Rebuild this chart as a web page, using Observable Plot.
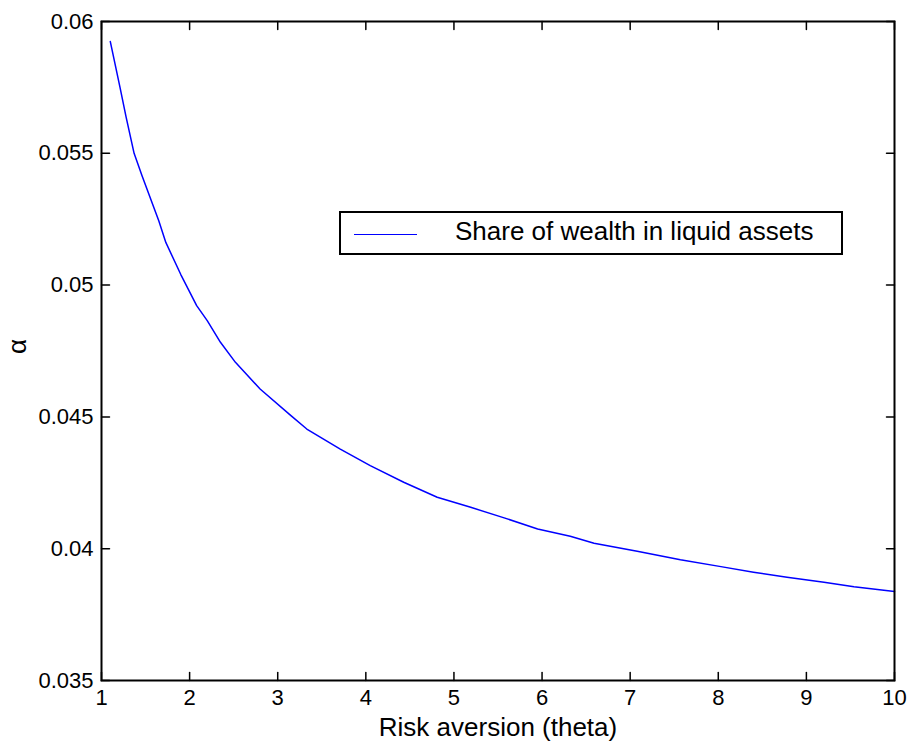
<!DOCTYPE html>
<html>
<head>
<meta charset="utf-8">
<script src="https://cdn.jsdelivr.net/npm/d3@7"></script>
<script src="https://cdn.jsdelivr.net/npm/@observablehq/plot@0.6"></script>
<style>
  html, body { margin: 0; padding: 0; background: #fff; }
  #chart { position: relative; width: 910px; height: 753px; font-family: "Liberation Sans", Arial, Helvetica, sans-serif; }
  #chart svg { display: block; }
  .legend {
    position: absolute; left: 339px; top: 211px; width: 504px; height: 44px;
    box-sizing: border-box; border: 2px solid #000; background: #fff;
  }
  .legend .swatch { position: absolute; left: 13px; top: 21px; width: 63px; height: 0; border-top: 1.5px solid #0000ff; }
  .legend .label { position: absolute; left: 114px; top: 3px; font-size: 26px; line-height: 30px; color: #000; white-space: nowrap; }
</style>
</head>
<body>
<div id="chart"></div>
<script>
// Share of wealth held in liquid assets (alpha) against risk aversion (theta)
const theta = [1.1, 1.21, 1.28, 1.37, 1.46, 1.65, 1.73, 1.9, 2.08, 2.2, 2.35, 2.52, 2.8, 3.15, 3.33, 3.71,
               4.05, 4.43, 4.81, 5.19, 5.57, 5.95, 6.32, 6.59, 7.08, 7.57, 8.03, 8.4, 8.78, 9.2, 9.54, 10.0];
const alpha = [0.05924, 0.0575, 0.05636, 0.0550, 0.05415, 0.05244, 0.05162, 0.0504, 0.04922, 0.04865, 0.04783,
               0.04707, 0.04606, 0.04505, 0.04454, 0.04378, 0.04315, 0.04252, 0.04195, 0.04157, 0.04117,
               0.04075, 0.04047, 0.04021, 0.0399, 0.03958, 0.03932, 0.03911, 0.03892, 0.03873, 0.03856, 0.03838];

const xTicks = [1, 2, 3, 4, 5, 6, 7, 8, 9, 10];
const yTicks = [0.035, 0.04, 0.045, 0.05, 0.055, 0.06];
const yTickLabels = ["0.035", "0.04", "0.045", "0.05", "0.055", "0.06"];
const xDomain = [1, 10];
const yDomain = [0.035, 0.06];

const xLabel = "Risk aversion (theta)";
const yLabel = "α";
const seriesName = "Share of wealth in liquid assets";

const points = theta.map((t, i) => ({theta: t, alpha: alpha[i]}));

// Short inward tick: a line from the anchor point along the vector direction
const tickShape = {draw(context, l) { context.moveTo(0, 0); context.lineTo(0, -l); }};
const tickLen = 8;

const chart = Plot.plot({
  width: 910,
  height: 753,
  marginLeft: 101,
  marginRight: 16,
  marginTop: 21,
  marginBottom: 73,
  style: {fontFamily: "'Liberation Sans', Arial, Helvetica, sans-serif", fontSize: "22px", color: "#000", background: "#fff"},
  x: {domain: xDomain},
  y: {domain: yDomain},
  marks: [
    Plot.axisX({ticks: xTicks, tickSize: 0, tickPadding: 9, tickFormat: d => String(d), label: null, fontSize: 22}),
    Plot.axisY({ticks: yTicks, tickSize: 0, tickPadding: 8, tickFormat: d => yTickLabels[yTicks.indexOf(d)], label: null, fontSize: 22}),
    // inward ticks on all four sides
    Plot.vector(xTicks, {x: d => d, y: () => yDomain[0], length: tickLen, rotate: 0, anchor: "start", shape: tickShape, stroke: "#000", strokeWidth: 1.5}),
    Plot.vector(xTicks, {x: d => d, y: () => yDomain[1], length: tickLen, rotate: 180, anchor: "start", shape: tickShape, stroke: "#000", strokeWidth: 1.5}),
    Plot.vector(yTicks, {x: () => xDomain[0], y: d => d, length: tickLen, rotate: 90, anchor: "start", shape: tickShape, stroke: "#000", strokeWidth: 1.5}),
    Plot.vector(yTicks, {x: () => xDomain[1], y: d => d, length: tickLen, rotate: -90, anchor: "start", shape: tickShape, stroke: "#000", strokeWidth: 1.5}),
    Plot.line(points, {x: "theta", y: "alpha", stroke: "#0000ff", strokeWidth: 1.5}),
    Plot.frame({stroke: "#000", strokeWidth: 2}),
    Plot.text([xLabel], {text: d => d, frameAnchor: "bottom", dy: 55, fontSize: 26, fill: "#000"}),
    Plot.text([yLabel], {text: d => d, frameAnchor: "left", dx: -84, dy: 3, rotate: -90, fontSize: 26, fill: "#000"})
  ]
});

const root = document.getElementById("chart");
root.appendChild(chart);

// Legend box inside the plot area
const legend = document.createElement("div");
legend.className = "legend";
const swatch = document.createElement("div");
swatch.className = "swatch";
const label = document.createElement("div");
label.className = "label";
label.textContent = seriesName;
legend.appendChild(swatch);
legend.appendChild(label);
root.appendChild(legend);
</script>
</body>
</html>
